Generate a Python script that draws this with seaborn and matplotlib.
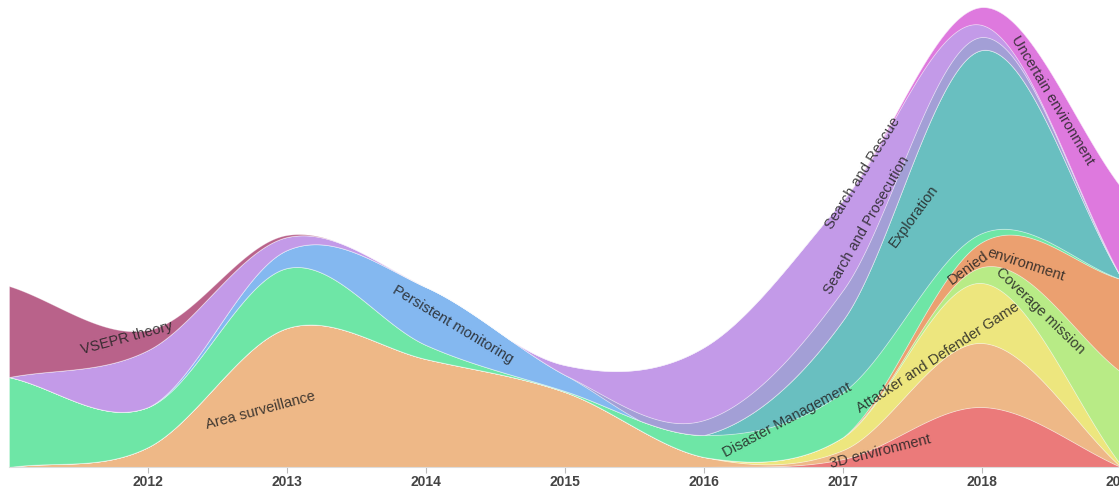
"""Stacked streamgraph of research topics per year."""

import matplotlib
matplotlib.use("Agg")
import matplotlib.pyplot as plt
import numpy as np
import seaborn as sns

sns.set_theme(style="white")
plt.rcParams["font.family"] = ["Liberation Sans", "DejaVu Sans"]

YEARS = [2011, 2012, 2013, 2014, 2015, 2016, 2017, 2018, 2019]
TICK_YEARS = [2012, 2013, 2014, 2015, 2016, 2017, 2018, 2019]

# layer order bottom -> top (alphabetical, as in the source chart)
TOPICS = [
    "3D environment",
    "Area surveillance",
    "Attacker and Defender Game",
    "Coverage mission",
    "Denied environment",
    "Disaster Management",
    "Exploration",
    "Persistent monitoring",
    "Search and Prosecution",
    "Search and Rescue",
    "Uncertain environment",
    "VSEPR theory",
]

env_3d = [0, 0, 0, 0, 0, 0, 8, 60, 0]
area_surveillance = [0, 20, 139, 108, 75, 10, 9, 64, 0]
attacker_defender = [0, 0, 0, 0, 0, 0, 13, 60, 2]
coverage_mission = [0, 0, 0, 0, 0, 0, 0, 16, 93]
denied_env = [0, 0, 0, 0, 0, 0, 0, 25, 93]
disaster_mgmt = [90, 40, 60, 14, 1, 22, 45, 9, 0]
exploration = [0, 0, 0, 0, 0, 0, 72, 183, 2]
persistent_mon = [0, 0, 18, 58, 16, 0, 0, 0, 0]
search_prosecution = [0, 0, 0, 0, 0, 15, 30, 13, 0]
search_rescue = [0, 57, 13, 0, 10, 73, 90, 12, 0]
uncertain_env = [0, 0, 0, 0, 0, 0, 0, 18, 90]
vsepr = [91, 20, 2, 0, 0, 0, 0, 0, 0]

SERIES = [
    env_3d, area_surveillance, attacker_defender, coverage_mission,
    denied_env, disaster_mgmt, exploration, persistent_mon,
    search_prosecution, search_rescue, uncertain_env, vsepr,
]

COLORS = [
    "#EB7A7A", "#EEB887", "#EDE67E", "#B8EB86", "#EBA070", "#6EE6A6",
    "#69BFC0", "#84B8F0", "#A39FD6", "#C39AE8", "#DE79DE", "#B9628A",
]

# label text, position (year, stacked value), rotation
LABELS = [
    ("VSEPR theory", 2011.85, 129, 15),
    ("Area surveillance", 2012.81, 56, 15),
    ("Persistent monitoring", 2014.19, 142, -31),
    ("Disaster Management", 2016.60, 47, 28),
    ("3D environment", 2017.27, 15, 14),
    ("Attacker and Defender Game", 2017.68, 109, 33),
    ("Denied", 2017.90, 199, 36),
    ("environment", 2018.32, 202, -18),
    ("Coverage mission", 2018.42, 156, -44),
    ("Search and Rescue", 2017.14, 294, 58),
    ("Search and Prosecution", 2017.17, 242, 60),
    ("Exploration", 2017.51, 251, 54),
    ("Uncertain environment", 2018.51, 367, -59),
]


def smooth(x, y, n=900):
    """Catmull-Rom style cubic through the yearly points (like d3 curves)."""
    x = np.asarray(x, dtype=float)
    y = np.asarray(y, dtype=float)
    m = np.empty_like(y)
    m[1:-1] = (y[2:] - y[:-2]) / 2
    m[0] = y[1] - y[0]
    m[-1] = y[-1] - y[-2]
    xs = np.linspace(x[0], x[-1], n)
    i = np.clip(np.searchsorted(x, xs, side="right") - 1, 0, len(x) - 2)
    t = xs - x[i]
    h00 = 2 * t**3 - 3 * t**2 + 1
    h10 = t**3 - 2 * t**2 + t
    h01 = -2 * t**3 + 3 * t**2
    h11 = t**3 - t**2
    return xs, h00 * y[i] + h10 * m[i] + h01 * y[i + 1] + h11 * m[i + 1]


fig = plt.figure(figsize=(11.19, 4.93), dpi=100)
ax = fig.add_axes([9 / 1119, 26 / 493, 1112 / 1119, 467 / 493])

# stack first, then smooth each boundary (as d3.stack + curved area does)
stacked = np.cumsum(np.array(SERIES, dtype=float), axis=0)
bounds = [np.zeros(900)]
for row in stacked:
    xs, b = smooth(YEARS, row)
    bounds.append(b)
bounds = np.maximum.accumulate(np.clip(np.vstack(bounds), 0, None), axis=0)

palette = sns.color_palette(COLORS)
for k, color in enumerate(palette):
    ax.fill_between(xs, bounds[k], bounds[k + 1], color=color,
                    edgecolor=(1, 1, 1, 0.35), linewidth=0.6)

for text, lx, ly, rot in LABELS:
    ax.text(
        lx, ly, text, rotation=rot, rotation_mode="anchor",
        ha="center", va="center", fontsize=10.5, color="#222222", alpha=0.85,
    )

ax.set_xlim(2011, 2019)
ax.set_ylim(0, 467)
ax.set_yticks([])
ax.set_xticks(TICK_YEARS)
ax.set_xticklabels([str(y) for y in TICK_YEARS], fontsize=10,
                   fontweight="bold", color="#444444")
ax.tick_params(axis="x", length=4, width=0.8, color="#bbbbbb", pad=2,
               bottom=True)
sns.despine(ax=ax, left=True, top=True, right=True)
ax.spines["bottom"].set_color("#dddddd")
ax.spines["bottom"].set_linewidth(0.8)

fig.savefig("out.png", dpi=100)
